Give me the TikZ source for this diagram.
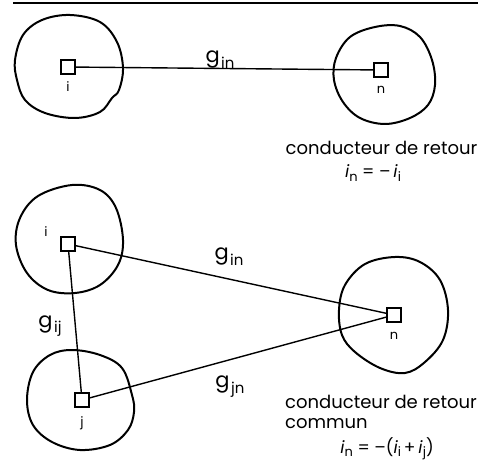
\documentclass[tikz,border=0pt]{standalone}
\usepackage{fontspec}
\setmainfont{Poppins}
\newcommand{\lowsub}[1]{\kern1.5pt\raisebox{-0.45ex}{\fontsize{15}{15}\selectfont #1}}
\newcommand{\eqsub}[1]{\raisebox{-0.4ex}{\fontsize{13}{13}\selectfont #1}}
\begin{document}
\begin{tikzpicture}[x=1pt,y=-1pt,
  term/.style={draw, minimum size=14pt, inner sep=0pt, line width=1.5pt},
  blob/.style={line width=2pt, line join=round},
  wire/.style={line width=1.4pt},
  tag/.style={font=\fontsize{13}{13}\selectfont, inner sep=0pt},
  glabel/.style={font=\fontsize{21}{21}\selectfont, inner sep=0pt, anchor=base},
  note/.style={font=\fontsize{18}{18}\selectfont, inner sep=0pt},
  eqn/.style={font=\fontsize{17}{17}\selectfont, inner sep=0pt}]
\useasboundingbox (0,0) rectangle (480,468);
% top rule
\coordinate (r1) at (13,3);
\coordinate (r2) at (478,3);
\draw[line width=1.8pt] (r1) -- (r2);

% ---------- top diagram ----------
\draw[blob] plot[smooth cycle, tension=0.6] coordinates {
 (70,15) (100,22) (117,42) (123,68) (119,90) (112,98) (100,112) (75,118)
 (45,113) (25,100) (17,80) (15,60) (23,35) (42,20)};
\draw[blob] plot[smooth cycle, tension=0.6] coordinates {
 (336,58) (350,37) (375,27) (400,26) (420,37) (432,60) (435,85) (428,105)
 (410,118) (385,124) (360,118) (343,102) (334,80)};
\node[term] (si) at (68,67) {};
\node[term] (sn) at (381,70) {};
\node[tag, anchor=base] (lsi) at (68,92) {i};
\node[tag, anchor=base] (lsn) at (381,94) {n};
\draw[wire] (si) -- (sn);
\node[glabel] (g1) at (220,63) {g\lowsub{in}};
\node[note, anchor=base] (t1) at (381.5,155) {conducteur de retour};
\node[eqn, anchor=base] (e1) at (373,178) {\textit{i}\eqsub{n} = \textendash\,\textit{i}\eqsub{i}};

% ---------- bottom diagram ----------
\draw[blob] plot[smooth cycle, tension=0.6] coordinates {
 (72,185) (100,190) (116,208) (123,240) (118,265) (100,285) (75,293)
 (48,290) (27,273) (16,245) (20,218) (38,196)};
\draw[blob] plot[smooth cycle, tension=0.6] coordinates {
 (72,350) (100,355) (122,368) (132,395) (134,412) (128,430) (110,445)
 (80,450) (52,442) (33,425) (27,400) (33,372) (50,355)};
\draw[blob] plot[smooth cycle, tension=0.6] coordinates {
 (395,257) (420,262) (440,280) (448,310) (443,340) (425,362) (405,373)
 (380,368) (355,352) (342,335) (339,310) (345,285) (365,264)};
\node[term] (bi) at (68,244) {};
\node[term] (bj) at (82,400) {};
\node[term] (bn) at (394,315) {};
\node[tag, anchor=base] (lbi) at (46,237) {i};
\node[tag, anchor=base] (lbj) at (82,426) {j};
\node[tag, anchor=base] (lbn) at (394,339) {n};
\draw[wire] (bi) -- (bn);
\draw[wire] (bi) -- (bj);
\draw[wire] (bj) -- (bn);
\node[glabel] (g2) at (229,260) {g\lowsub{in}};
\node[glabel] (g3) at (50,327) {g\lowsub{ij}};
\node[glabel] (g4) at (230,388) {g\lowsub{jn}};
\node[note, anchor=base west] (t2) at (285,408) {conducteur de retour};
\node[note, anchor=base west] (t3) at (285,428) {commun};
\node[eqn, anchor=base] (e2) at (387,453) {\textit{i}\eqsub{n} = \textendash(\textit{i}\eqsub{i}\,+\,\textit{i}\eqsub{j})};
\end{tikzpicture}
\end{document}
